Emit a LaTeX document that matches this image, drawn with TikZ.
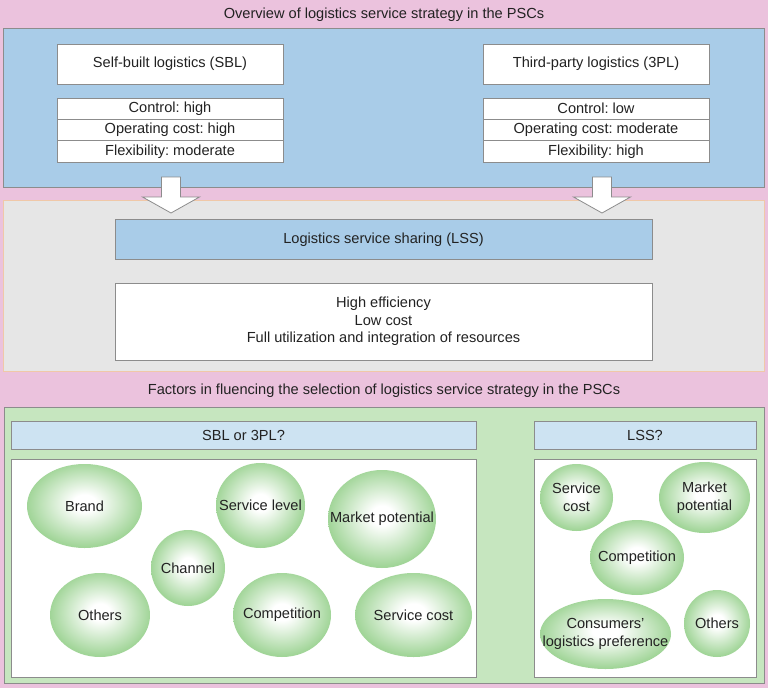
\documentclass[tikz,border=0pt]{standalone}
\usepackage{fontspec}
\setmainfont{Liberation Sans}
\usetikzlibrary{shapes.geometric}
\definecolor{pinkbg}{HTML}{EBC2DD}
\definecolor{bluebox}{HTML}{A9CCE8}
\definecolor{graybox}{HTML}{E6E6E6}
\definecolor{grayedge}{HTML}{F0C8A8}
\definecolor{greenbox}{HTML}{C6E6BF}
\definecolor{barblue}{HTML}{CDE3F2}
\definecolor{edgegray}{HTML}{8C8C8C}
\definecolor{ellgreen}{HTML}{A1D598}
\definecolor{txt}{HTML}{222222}
\pgfdeclareradialshading{ellsh}{\pgfpoint{0bp}{2bp}}{color(0bp)=(white); color(5bp)=(white); color(25bp)=(ellgreen); color(50bp)=(ellgreen)}
\frenchspacing
\begin{document}
\begin{tikzpicture}[x=1pt,y=-1pt, font=\fontsize{14.6}{17.5}\selectfont, text=txt,
 panel/.style={draw=edgegray, line width=0.8pt, inner sep=0pt},
 wbox/.style={draw=edgegray, fill=white, line width=0.8pt, minimum width=226pt, minimum height=40pt, inner sep=0pt},
 row/.style={draw=edgegray, fill=white, line width=0.8pt, minimum width=226pt, minimum height=21.33pt, inner sep=0pt},
 factor/.style={ellipse, inner sep=0pt, shading=ellsh},
 lbl/.style={align=center, inner sep=0pt, text=txt},
 blockarrow/.style={draw=edgegray, fill=white, line width=0.8pt, line join=miter}]
\useasboundingbox (0,0) rectangle (768,688);
\fill[pinkbg] (0,0) rectangle (768,688);

% top section
\node (t1) at (384,15) {Overview of logistics service strategy in the PSCs};
\node[panel, fill=bluebox, minimum width=761pt, minimum height=159pt] (top) at (383.5,107.5) {};
\node[wbox] (sbl) at (170,64) {Self-built logistics (SBL)};
\node[wbox] (tpl) at (596,64) {Third-party logistics (3PL)};
\node[row] (sblc) at (170,108.67) {Control: high};
\node[row] (sblo) at (170,130) {Operating cost: high};
\node[row] (sblf) at (170,151.33) {Flexibility: moderate};
\node[row] (tplc) at (596,108.67) {Control: low};
\node[row] (tplo) at (596,130) {Operating cost: moderate};
\node[row] (tplf) at (596,151.33) {Flexibility: high};

% middle section
\node[draw=grayedge, line width=0.8pt, fill=graybox, minimum width=761pt, minimum height=171pt, inner sep=0pt] (mid) at (383.5,285.5) {};
\node[panel, fill=bluebox, minimum width=537pt, minimum height=40pt] (lss) at (383.5,239.5) {Logistics service sharing (LSS)};
\node[panel, fill=white, minimum width=537pt, minimum height=77pt, align=center] (ben) at (383.5,321.5) {High efficiency\\Low cost\\Full utilization and integration of resources};

\coordinate (a1) at (171,177);
\coordinate (a2) at (602,177);
\draw[blockarrow] (a1) ++(-9.5,0) -- ++(0,20) -- ++(-19,0) -- ++(28.5,16) -- ++(28.5,-16) -- ++(-19,0) -- ++(0,-20) -- cycle;
\draw[blockarrow] (a2) ++(-9.5,0) -- ++(0,20) -- ++(-19,0) -- ++(28.5,16) -- ++(28.5,-16) -- ++(-19,0) -- ++(0,-20) -- cycle;

% bottom section
\node (t2) at (384,391) {Factors in fluencing the selection of logistics service strategy in the PSCs};
\node[panel, fill=greenbox, minimum width=760pt, minimum height=276pt] (bot) at (384,545) {};
\node[panel, fill=barblue, minimum width=465pt, minimum height=28pt] (q1) at (243.5,435) {SBL or 3PL?};
\node[panel, fill=barblue, minimum width=222pt, minimum height=28pt] (q2) at (645,435) {LSS?};
\node[panel, fill=white, minimum width=465pt, minimum height=218pt] (f1) at (243.5,568) {};
\node[panel, fill=white, minimum width=222pt, minimum height=218pt] (f2) at (645,568) {};

\node[factor, minimum width=115pt, minimum height=84pt, label={[lbl]center:Brand}] (brand) at (84.5,506) {};
\node[factor, minimum width=89pt, minimum height=85pt, label={[lbl]center:Service level}] (slevel) at (260.5,505.5) {};
\node[factor, minimum width=108pt, minimum height=98pt, label={[lbl]center:Market potential}] (mpot) at (382,519) {};
\node[factor, minimum width=74pt, minimum height=76pt, label={[lbl]center:Channel}] (chan) at (188,568) {};
\node[factor, minimum width=100pt, minimum height=84pt, label={[lbl]center:Others}] (oth) at (100,615) {};
\node[factor, minimum width=98pt, minimum height=84pt, label={[lbl]center:Competition}] (comp) at (282,615) {};
\node[factor, minimum width=117pt, minimum height=84pt, label={[lbl]center:Service cost}] (scost) at (413.5,615) {};

\node[factor, minimum width=73pt, minimum height=67pt, label={[lbl]center:Service\\cost}] (rscost) at (576.5,497.5) {};
\node[factor, minimum width=91pt, minimum height=71pt, label={[lbl]center:Market\\potential}] (rmpot) at (704.5,497.5) {};
\node[factor, minimum width=94pt, minimum height=75pt, label={[lbl]center:Competition}] (rcomp) at (637,557.5) {};
\node[factor, minimum width=131pt, minimum height=70pt, label={[lbl]center:Consumers'\\logistics preference}] (rcons) at (605.5,634) {};
\node[factor, minimum width=66pt, minimum height=67pt, label={[lbl]center:Others}] (roth) at (717,623.5) {};
\end{tikzpicture}
\end{document}
